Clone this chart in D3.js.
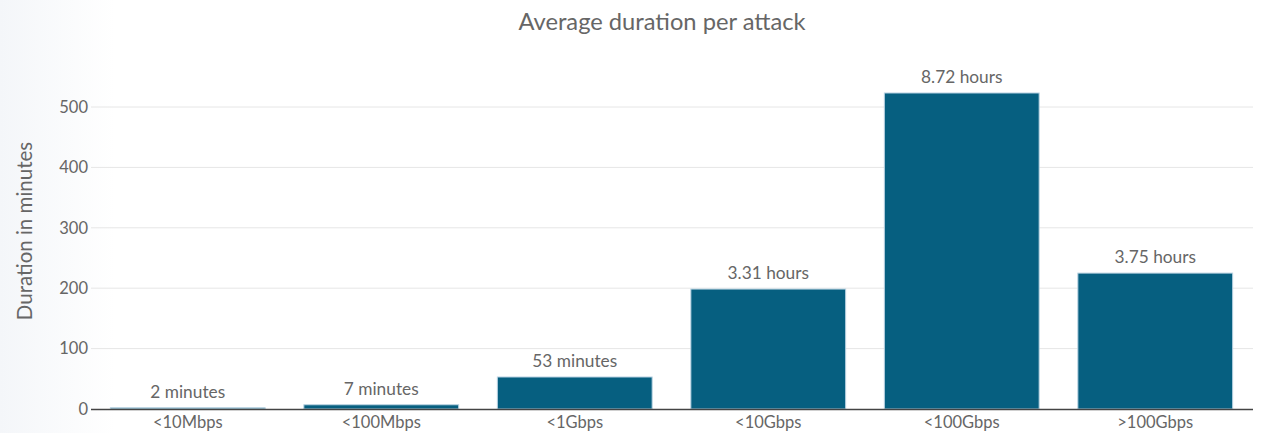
<!DOCTYPE html>
<html><head><meta charset="utf-8">
<script src="https://cdn.jsdelivr.net/npm/d3@7"></script>
<style>html,body{margin:0;padding:0;background:#fff;overflow:hidden}svg{display:block}</style>
</head><body><svg id="c" width="1261" height="433"></svg>
<script>
const categories = ["<10Mbps","<100Mbps","<1Gbps","<10Gbps","<100Gbps",">100Gbps"];
const values = [2, 7, 53, 198.6, 523.2, 225];
const valueLabels = ["2 minutes","7 minutes","53 minutes","3.31 hours","8.72 hours","3.75 hours"];
const yTicks = [0,100,200,300,400,500];
const title = "Average duration per attack";
const yTitle = "Duration in minutes";

const font = "'Source Sans Pro','Lato','Noto Sans',sans-serif";
const svg = d3.select("#c");
const W = 1261, H = 433;
const defs = svg.append("defs");
const g0 = defs.append("linearGradient").attr("id","bg").attr("x1","0").attr("x2","1");
g0.append("stop").attr("offset","0").attr("stop-color","#f4f6f9");
g0.append("stop").attr("offset","1").attr("stop-color","#ffffff");
svg.append("rect").attr("width",115).attr("height",H).attr("fill","url(#bg)");

const x = d3.scaleBand().domain(categories).range([91,1252]).paddingInner(0.2).paddingOuter(0.1);
const y = d3.scaleLinear().domain([0,500]).range([409,107]);

// grid
svg.append("g").selectAll("line").data(yTicks.filter(d=>d>0)).join("line")
  .attr("x1",91).attr("x2",1253).attr("y1",d=>y(d)).attr("y2",d=>y(d))
  .attr("stroke","#e6e6e6").attr("stroke-width",1);

// y axis labels
const ya = svg.append("g").attr("transform","translate(91,0)")
  .call(d3.axisLeft(y).tickValues(yTicks).tickSize(0).tickPadding(3));
ya.select(".domain").remove();
ya.selectAll("text").attr("font-family",font).attr("font-size",16.5).attr("fill","#666");

// bars
svg.append("g").selectAll("rect").data(values).join("rect")
  .attr("x",(d,i)=>x(categories[i])).attr("width",x.bandwidth())
  .attr("y",d=>y(d)).attr("height",d=>y(0)-y(d))
  .attr("fill","#065f80").attr("stroke","#b9d3e2").attr("stroke-width",1);

// zero line
svg.append("line").attr("x1",91).attr("x2",1253).attr("y1",y(0)+0.5).attr("y2",y(0)+0.5)
  .attr("stroke","#444").attr("stroke-width",1.5);

// value labels
svg.append("g").selectAll("text").data(values).join("text")
  .attr("x",(d,i)=>x(categories[i])+x.bandwidth()/2).attr("y",d=>y(d)-10)
  .attr("text-anchor","middle").attr("font-family",font).attr("font-size",17.3).attr("fill","#666")
  .text((d,i)=>valueLabels[i]);

// x axis labels
const xa = svg.append("g").attr("transform","translate(0,409)")
  .call(d3.axisBottom(x).tickSize(0).tickPadding(7));
xa.select(".domain").remove();
xa.selectAll("text").attr("font-family",font).attr("font-size",16.5).attr("fill","#666");

// title
svg.append("text").attr("x",662).attr("y",30).attr("text-anchor","middle")
  .attr("font-family",font).attr("font-size",23.7).attr("fill","#666").text(title);

// y title
svg.append("text").attr("transform","translate(32,231) rotate(-90)").attr("text-anchor","middle")
  .attr("font-family",font).attr("font-size",20.5).attr("fill","#666").text(yTitle);
</script></body></html>
